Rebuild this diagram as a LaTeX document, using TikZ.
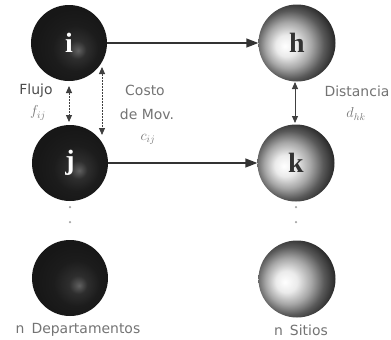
\documentclass[tikz,border=0pt]{standalone}
\usepackage{fontspec}
\setmainfont{DejaVu Sans}
\newfontfamily\letterfont{Liberation Serif}
\usetikzlibrary{arrows.meta}
\pgfdeclareradialshading{deptshade}{\pgfpoint{6bp}{-5bp}}{color(0bp)=(black!62); color(6bp)=(black!82); color(15bp)=(black!89); color(25bp)=(black!91); color(50bp)=(black!91)}
\pgfdeclareradialshading{sitioshade}{\pgfpoint{-8bp}{-2bp}}{color(0bp)=(white); color(7bp)=(black!8); color(15bp)=(black!35); color(22bp)=(black!65); color(29bp)=(black!86); color(50bp)=(black!90)}
\tikzset{
  dept/.style={circle, minimum size=76bp, inner sep=0pt, shading=deptshade, text=white, font=\letterfont\bfseries\fontsize{28}{28}\selectfont},
  sitio/.style={circle, minimum size=77bp, inner sep=0pt, shading=sitioshade, text=black!80, font=\letterfont\bfseries\fontsize{28}{28}\selectfont},
  lbl/.style={text=black!55, font=\fontsize{14}{16}\selectfont, inner sep=0pt, align=center},
  flow/.style={draw=black!80, line width=1.5bp, -{Triangle[length=12bp,width=9bp]}},
  dbl/.style={draw=black!75, line width=0.9bp, {Triangle[length=7bp,width=6bp]}-{Triangle[length=7bp,width=6bp]}},
  dotmark/.style={circle, fill=black!35, inner sep=0pt, minimum size=2.5bp}
}
\begin{document}
\begin{tikzpicture}[x=1bp,y=-1bp]
\useasboundingbox (0,0) rectangle (391,340);
\node[dept] (i) at (69,43) {i};
\node[sitio] (h) at (297,43) {h};
\node[dept] (j) at (70,163) {j};
\node[sitio] (k) at (296,163) {k};
\node[dept] (n1) at (70,278) {};
\node[sitio] (n2) at (297,279) {};
\draw[flow] (i) -- (h);
\draw[flow] (j) -- (k);
\coordinate (ft) at (69,86);
\coordinate (fb) at (69,122);
\draw[dbl, dash pattern=on 2bp off 1bp] (ft) -- (fb);
\coordinate (ct) at (102,67);
\coordinate (cb) at (102,135);
\draw[dbl, dash pattern=on 2bp off 1bp] (ct) -- (cb);
\coordinate (dt) at (295,82);
\coordinate (db) at (295,123);
\draw[dbl] (dt) -- (db);
\node[lbl, text=black!70] (fl) at (36,91) {Flujo};
\node[lbl] (fij) at (38,113) {$f_{ij}$};
\node[lbl] (co) at (145,90) {Costo};
\node[lbl] (dm) at (147,114) {de Mov.};
\node[lbl] (cij) at (148,139) {$c_{ij}$};
\node[lbl] (di) at (357,91) {Distancia};
\node[lbl] (dhk) at (356,114) {$d_{hk}$};
\node[dotmark] (p1) at (70,207) {};
\node[dotmark] (p2) at (70,222) {};
\node[dotmark] (p3) at (296,207) {};
\node[dotmark] (p4) at (296,222) {};
\node[lbl] (nd) at (78,330) {n\enspace Departamentos};
\node[lbl] (ns) at (301,330) {n\enspace Sitios};
\end{tikzpicture}
\end{document}
